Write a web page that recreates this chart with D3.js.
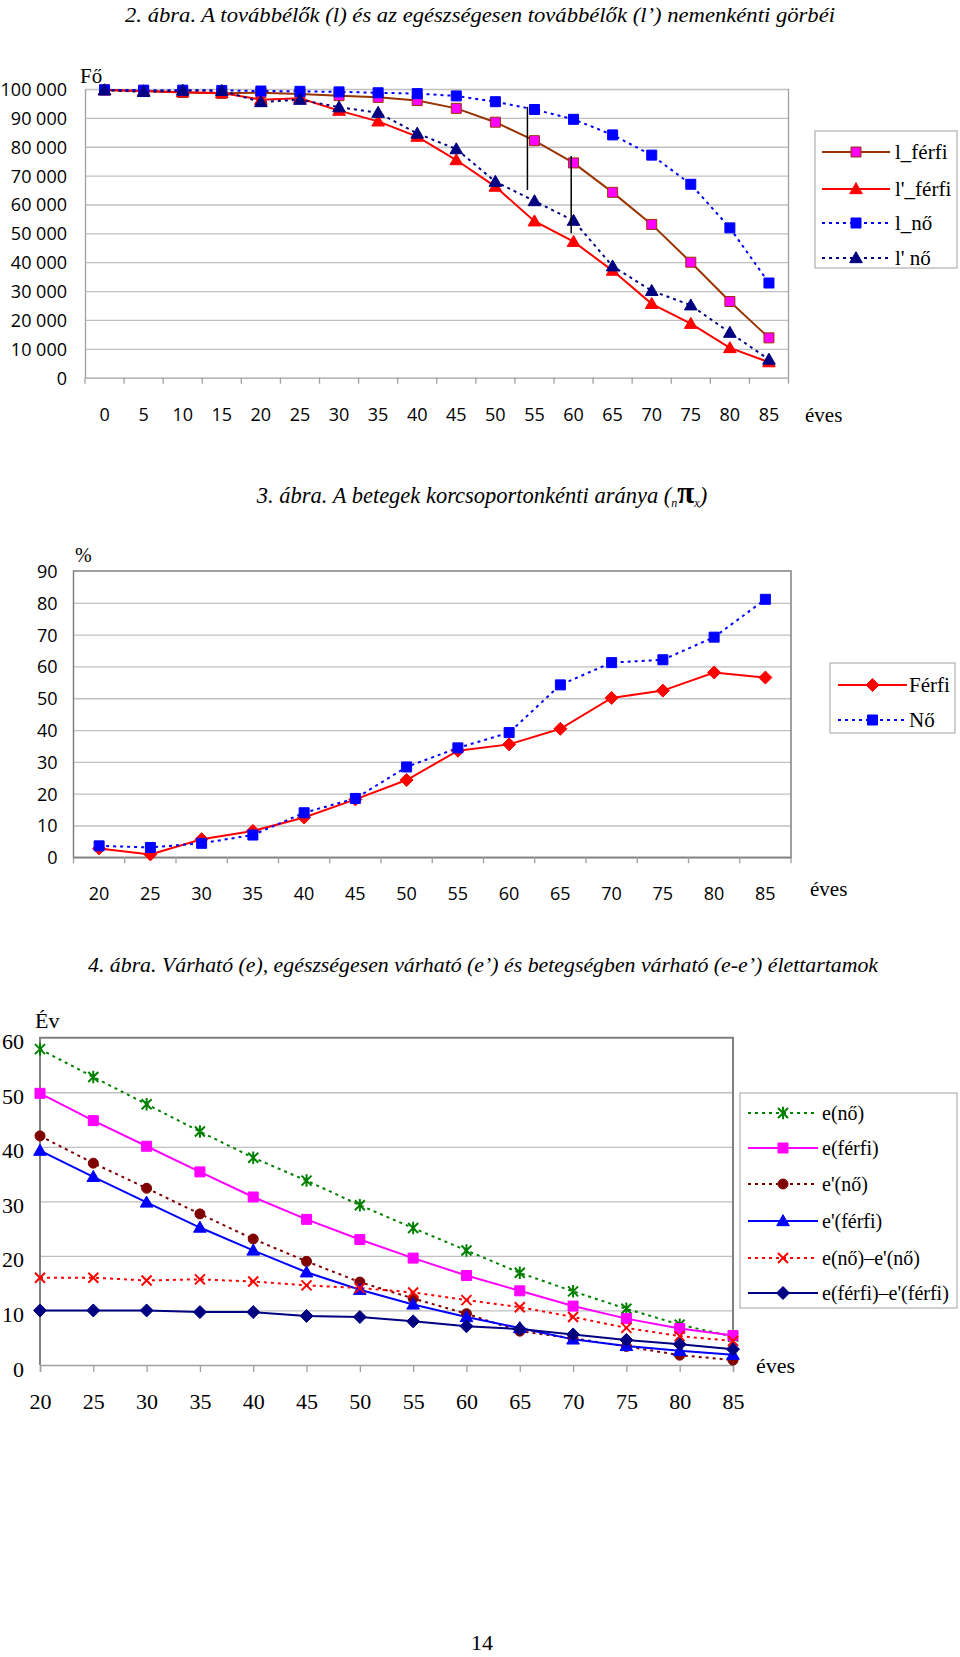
<!DOCTYPE html>
<html><head><meta charset="utf-8">
<script src="https://cdn.jsdelivr.net/npm/d3@7"></script>
<style>body{margin:0;background:#fff}svg{display:block}</style>
</head><body>
<svg id="c" width="960" height="1657"></svg>
<script>
// ================= DATA =================
// 2. ábra
const ages1 = [0,5,10,15,20,25,30,35,40,45,50,55,60,65,70,75,80,85];
const lFerfi  = [99700,99300,98800,98500,98700,98300,97700,97100,96000,93300,88500,82100,74400,64200,53100,40000,26400,13800];
const lpFerfi = [99600,99300,98900,98600,96300,96800,92500,88800,83500,75400,66200,54200,47100,37100,25600,18700,10300,5400];
const lNo     = [99700,99600,99600,99500,99300,99200,99000,98700,98400,97600,95600,92900,89500,84100,77100,67000,51900,32800];
const lpNo    = [99600,99000,99500,99400,95500,96300,93700,91800,84600,79200,67900,61200,54400,38600,30100,25100,15600,6300];
const names1  = ["l_férfi","l'_férfi","l_nő","l' nő"];
const yTicks1 = [0,10000,20000,30000,40000,50000,60000,70000,80000,90000,100000];
const gapAges1   = [54.1, 59.7];
const gapTop1    = [93800, 76800];
const gapBottom1 = [65000, 50000];

// 3. ábra
const ages2 = [20,25,30,35,40,45,50,55,60,65,70,75,80,85];
const pFerfi = [2.8,0.9,5.7,8.3,12.5,18.2,24.3,33.5,35.5,40.4,50.1,52.4,58.1,56.5];
const pNo    = [3.6,3.1,4.4,7.0,14.0,18.5,28.4,34.4,39.2,54.2,61.2,62.1,69.2,81.1];
const names2 = ["Férfi","Nő"];
const yTicks2 = [0,10,20,30,40,50,60,70,80,90];

// 4. ábra
const ages3 = [20,25,30,35,40,45,50,55,60,65,70,75,80,85];
const eNo      = [57.9,52.8,47.8,42.8,38.0,33.8,29.3,25.1,21.0,16.9,13.5,10.3,7.4,5.2];
const eFerfi   = [49.8,44.8,40.1,35.4,30.8,26.7,23.0,19.6,16.4,13.6,10.8,8.5,6.7,5.4];
const epNo     = [42.0,37.0,32.4,27.7,23.1,19.0,15.2,12.2,9.4,6.2,4.9,3.4,1.8,0.9];
const epFerfi  = [39.3,34.5,29.8,25.2,21.0,17.0,13.8,11.1,8.8,6.8,4.7,3.5,2.6,1.9];
const diffNo   = [16.0,16.0,15.5,15.7,15.3,14.6,14.1,13.3,11.9,10.6,8.8,6.8,5.3,4.4];
const diffFerfi= [10.0,10.0,10.0,9.7,9.7,9.0,8.8,8.0,7.1,6.6,5.6,4.6,3.8,2.9];
const names3 = ["e(nő)","e(férfi)","e'(nő)","e'(férfi)","e(nő)–e'(nő)","e(férfi)–e'(férfi)"];
const yTicks3 = [0,10,20,30,40,50,60];

// ================= HELPERS =================
const svg = d3.select("#c");
const SANS = "'Open Sans','DejaVu Sans',sans-serif";
const SERIF = "'Liberation Serif','DejaVu Serif',serif";
const GRID = "#c0c0c0", AXIS = "#a0a0a0", BORDER = "#808080";
const DOT = "3,4";

function markerPath(type, r) {
  switch (type) {
    case "square": return `M${-r},${-r}h${2*r}v${2*r}h${-2*r}Z`;
    case "triangle": return `M0,${-r*1.15}L${r*1.15},${r*0.85}L${-r*1.15},${r*0.85}Z`;
    case "diamond": return `M0,${-r*1.3}L${r*1.3},0L0,${r*1.3}L${-r*1.3},0Z`;
    case "circle": return d3.symbol(d3.symbolCircle, Math.PI*r*r)();
    case "x": return `M${-r},${-r}L${r},${r}M${r},${-r}L${-r},${r}`;
    case "star": return `M${-r},${-r}L${r},${r}M${r},${-r}L${-r},${r}M0,${-r*1.25}L0,${r*1.25}`;
  }
}
function drawMarker(g, s, x, y) {
  const open = s.marker === "x" || s.marker === "star";
  g.append("path").attr("d", markerPath(s.marker, s.r))
    .attr("transform", `translate(${x},${y})`)
    .attr("fill", open ? "none" : s.fill)
    .attr("stroke", s.stroke)
    .attr("stroke-width", open ? 2 : 1);
}
function drawSeries(g, series, xs, ys) {
  series.forEach(s => {
    const line = d3.line().x((d,i) => xs(i)).y(d => ys(d));
    g.append("path").datum(s.values).attr("d", line)
      .attr("fill", "none").attr("stroke", s.color).attr("stroke-width", 2)
      .attr("stroke-dasharray", s.dash || null);
  });
  series.forEach(s => {
    s.values.forEach((v,i) => drawMarker(g, s, xs(i), ys(v)));
  });
}
function drawLegend(box, entries, rows, lx0, lx1, tx, fs) {
  svg.append("rect").attr("x", box[0]).attr("y", box[1]).attr("width", box[2]).attr("height", box[3])
    .attr("fill", "#fff").attr("stroke", AXIS).attr("stroke-width", 1);
  const maxW = box[0] + box[2] - 5 - tx;
  entries.forEach((s, i) => {
    const y = rows[i];
    svg.append("line").attr("x1", lx0).attr("x2", lx1).attr("y1", y).attr("y2", y)
      .attr("stroke", s.color).attr("stroke-width", 2).attr("stroke-dasharray", s.dash || null);
    drawMarker(svg, s, (lx0+lx1)/2, y);
    const t = svg.append("text").attr("x", tx).attr("y", y).attr("dy", "0.33em")
      .attr("font-family", SERIF).attr("font-size", fs).attr("fill", "#000").text(s.name);
    if (t.node().getComputedTextLength() > maxW) t.attr("textLength", maxW).attr("lengthAdjust", "spacingAndGlyphs");
  });
}
function title(x, y, len, txt) {
  svg.append("text").attr("x", x).attr("y", y).attr("font-family", SERIF).attr("font-style", "italic")
    .attr("font-size", 22).attr("textLength", len).attr("lengthAdjust", "spacingAndGlyphs").text(txt);
}
const locale = d3.formatLocale({decimal: ",", thousands: "\u00a0", grouping: [3], currency: ["", ""]});
const fmtThousands = locale.format(",d");

// ================= 2. ábra =================
title(125, 22, 710, "2. ábra. A továbbélők (l) és az egészségesen továbbélők (l’) nemenkénti görbéi");
{
  const x = d3.scaleBand().domain(ages1).range([85, 788.5]);
  const y = d3.scaleLinear().domain([0, 100000]).range([377.7, 89]);
  const g = svg.append("g");
  g.append("g").attr("transform", "translate(85,0)")
    .call(d3.axisLeft(y).tickValues(yTicks1.filter(t => t > 0)).tickSize(-(788.5-85)).tickFormat(""))
    .call(a => a.select(".domain").remove())
    .call(a => a.selectAll("line").attr("stroke", GRID).attr("stroke-width", 1.3));
  g.append("g").attr("transform", "translate(85,0)")
    .call(d3.axisLeft(y).tickValues(yTicks1).tickSize(0).tickPadding(18).tickFormat(fmtThousands))
    .call(a => a.select(".domain").attr("stroke", AXIS).attr("stroke-width", 1.3))
    .call(a => a.selectAll("text").attr("font-family", SANS).attr("font-size", 18).attr("fill", "#000").attr("dy", "0.36em"));
  g.append("line").attr("x1", 788.5).attr("x2", 788.5).attr("y1", y(100000)).attr("y2", y(0)).attr("stroke", AXIS).attr("stroke-width", 1.3);
  g.append("g").attr("transform", `translate(0,${y(0)})`)
    .call(d3.axisBottom(x).tickSize(0).tickPadding(0))
    .call(a => a.select(".domain").attr("stroke", AXIS).attr("stroke-width", 1.3))
    .call(a => a.selectAll("text").attr("font-family", SANS).attr("font-size", 18).attr("fill", "#000").attr("y", 37).attr("dy", "0.36em"));
  ages1.concat([null]).forEach(a => {
    const xx = a === null ? x.range()[1] : x(a);
    g.append("line").attr("x1", xx).attr("x2", xx).attr("y1", y(0)).attr("y2", y(0) + 6).attr("stroke", AXIS).attr("stroke-width", 1.3);
  });
  const series = [
    {values: lFerfi, name: names1[0], color: "#993300", marker: "square", r: 5, fill: "#ff00ff", stroke: "#993300"},
    {values: lpFerfi, name: names1[1], color: "#ff0000", marker: "triangle", r: 5.5, fill: "#ff0000", stroke: "#ff0000"},
    {values: lNo, name: names1[2], color: "#0000ff", dash: DOT, marker: "square", r: 5, fill: "#0000ff", stroke: "#0000ff"},
    {values: lpNo, name: names1[3], color: "#000080", dash: DOT, marker: "triangle", r: 5.5, fill: "#000080", stroke: "#000080"}
  ];
  const xs = i => x(ages1[i]) + x.bandwidth()/2;
  drawSeries(g, series, xs, y);
  const ageToX = d3.scaleLinear().domain([ages1[0], ages1[ages1.length-1]]).range([xs(0), xs(ages1.length-1)]);
  gapAges1.forEach((a, i) => {
    g.append("line").attr("x1", ageToX(a)).attr("x2", ageToX(a)).attr("y1", y(gapTop1[i])).attr("y2", y(gapBottom1[i]))
      .attr("stroke", "#000").attr("stroke-width", 1.5);
  });
  svg.append("text").attr("x", 80).attr("y", 83).attr("font-family", SERIF).attr("font-size", 21).text("Fő");
  svg.append("text").attr("x", 805).attr("y", 415).attr("dy", "0.33em").attr("font-family", SERIF).attr("font-size", 21).text("éves");
  drawLegend([815, 131, 142, 137], series, [152, 189, 223, 258], 822, 890, 895, 21);
}

// ================= 3. ábra =================
{
  const t = svg.append("text").attr("x", 482).attr("y", 503).attr("text-anchor", "middle")
    .attr("font-family", SERIF).attr("font-style", "italic").attr("font-size", 22.5);
  t.append("tspan").text("3. ábra. A betegek korcsoportonkénti aránya (");
  t.append("tspan").attr("font-size", 12).attr("dy", 4).text("n");
  t.append("tspan").attr("font-size", 31).attr("font-weight", "bold").attr("font-style", "normal").attr("dy", -4).text("π");
  t.append("tspan").attr("font-size", 12).attr("dy", 4).text("x");
  t.append("tspan").attr("dy", -4).text(")");

  const x = d3.scaleBand().domain(ages2).range([73.5, 791]);
  const y = d3.scaleLinear().domain([0, 90]).range([857.3, 571]);
  const g = svg.append("g");
  g.append("g").attr("transform", "translate(73.5,0)")
    .call(d3.axisLeft(y).tickValues(yTicks2.filter(v => v > 0 && v < 90)).tickSize(-(791-73.5)).tickFormat(""))
    .call(a => a.select(".domain").remove())
    .call(a => a.selectAll("line").attr("stroke", GRID).attr("stroke-width", 1.3));
  g.append("rect").attr("x", 73.5).attr("y", y(90)).attr("width", 791-73.5).attr("height", y(0)-y(90))
    .attr("fill", "none").attr("stroke", BORDER).attr("stroke-width", 1.5);
  g.append("g").attr("transform", "translate(73.5,0)")
    .call(d3.axisLeft(y).tickValues(yTicks2).tickSize(0).tickPadding(16))
    .call(a => a.select(".domain").remove())
    .call(a => a.selectAll("text").attr("font-family", SANS).attr("font-size", 18).attr("fill", "#000").attr("dy", "0.36em"));
  g.append("g").attr("transform", `translate(0,${y(0)})`)
    .call(d3.axisBottom(x).tickSize(0))
    .call(a => a.select(".domain").attr("stroke", BORDER).attr("stroke-width", 1.5))
    .call(a => a.selectAll("text").attr("font-family", SANS).attr("font-size", 18).attr("fill", "#000").attr("y", 36).attr("dy", "0.36em"));
  ages2.concat([null]).forEach(a => {
    const xx = a === null ? x.range()[1] : x(a);
    g.append("line").attr("x1", xx).attr("x2", xx).attr("y1", y(0)).attr("y2", y(0) + 6).attr("stroke", AXIS).attr("stroke-width", 1.3);
  });
  const series = [
    {values: pFerfi, name: names2[0], color: "#ff0000", marker: "diamond", r: 5, fill: "#ff0000", stroke: "#ff0000"},
    {values: pNo, name: names2[1], color: "#0000ff", dash: DOT, marker: "square", r: 5, fill: "#0000ff", stroke: "#0000ff"}
  ];
  const xs = i => x(ages2[i]) + x.bandwidth()/2;
  drawSeries(g, series, xs, y);
  svg.append("text").attr("x", 75).attr("y", 555).attr("dy", "0.33em").attr("font-family", SERIF).attr("font-size", 20).text("%");
  svg.append("text").attr("x", 810).attr("y", 889).attr("dy", "0.33em").attr("font-family", SERIF).attr("font-size", 21).text("éves");
  drawLegend([830, 663, 125, 70], series, [685, 720], 838, 907, 909, 21);
}

// ================= 4. ábra =================
title(88, 972, 790, "4. ábra. Várható (e), egészségesen várható (e’) és betegségben várható (e-e’) élettartamok");
{
  const x = d3.scalePoint().domain(ages3).range([40, 733]);
  const y = d3.scaleLinear().domain([0, 60]).range([1365, 1037.7]);
  const g = svg.append("g");
  g.append("g").attr("transform", "translate(40,0)")
    .call(d3.axisLeft(y).tickValues(yTicks3.filter(v => v > 0 && v < 60)).tickSize(-(733-40)).tickFormat(""))
    .call(a => a.select(".domain").remove())
    .call(a => a.selectAll("line").attr("stroke", GRID).attr("stroke-width", 1.3));
  g.append("path").attr("d", `M40,${y(0)}V${y(60)}H733V${y(0)}`).attr("fill", "none").attr("stroke", BORDER).attr("stroke-width", 2);
  g.append("g").attr("transform", "translate(40,0)")
    .call(d3.axisLeft(y).tickValues(yTicks3).tickSize(0).tickPadding(16))
    .call(a => a.select(".domain").remove())
    .call(a => a.selectAll("text").attr("font-family", SERIF).attr("font-size", 22).attr("fill", "#000").attr("dy", "0.5em"));
  g.append("g").attr("transform", `translate(0,${y(0)})`)
    .call(d3.axisBottom(x).tickSize(7))
    .call(a => a.select(".domain").attr("stroke", AXIS).attr("stroke-width", 1.5))
    .call(a => a.selectAll("line").attr("stroke", AXIS).attr("stroke-width", 1.3))
    .call(a => a.selectAll("text").attr("font-family", SERIF).attr("font-size", 22).attr("fill", "#000").attr("y", 37).attr("dy", "0.33em"));
  const series = [
    {values: eNo, name: names3[0], color: "#008000", dash: DOT, marker: "star", r: 5, fill: "none", stroke: "#008000"},
    {values: eFerfi, name: names3[1], color: "#ff00ff", marker: "square", r: 5, fill: "#ff00ff", stroke: "#ff00ff"},
    {values: epNo, name: names3[2], color: "#800000", dash: DOT, marker: "circle", r: 5, fill: "#800000", stroke: "#800000"},
    {values: epFerfi, name: names3[3], color: "#0000ff", marker: "triangle", r: 5.5, fill: "#0000ff", stroke: "#0000ff"},
    {values: diffNo, name: names3[4], color: "#ff0000", dash: DOT, marker: "x", r: 5, fill: "none", stroke: "#ff0000"},
    {values: diffFerfi, name: names3[5], color: "#000080", marker: "diamond", r: 5, fill: "#000080", stroke: "#000080"}
  ];
  const xs = i => x(ages3[i]);
  drawSeries(g, series, xs, y);
  svg.append("text").attr("x", 35).attr("y", 1028).attr("font-family", SERIF).attr("font-size", 22).text("Év");
  svg.append("text").attr("x", 756).attr("y", 1366).attr("dy", "0.33em").attr("font-family", SERIF).attr("font-size", 22).text("éves");
  drawLegend([740, 1093, 217, 215], series, [1113, 1148, 1184, 1221, 1258, 1293], 748, 818, 822, 20);
}

// page number
svg.append("text").attr("x", 482).attr("y", 1650).attr("text-anchor", "middle").attr("font-family", SERIF).attr("font-size", 22).text("14");
</script>
</body></html>
